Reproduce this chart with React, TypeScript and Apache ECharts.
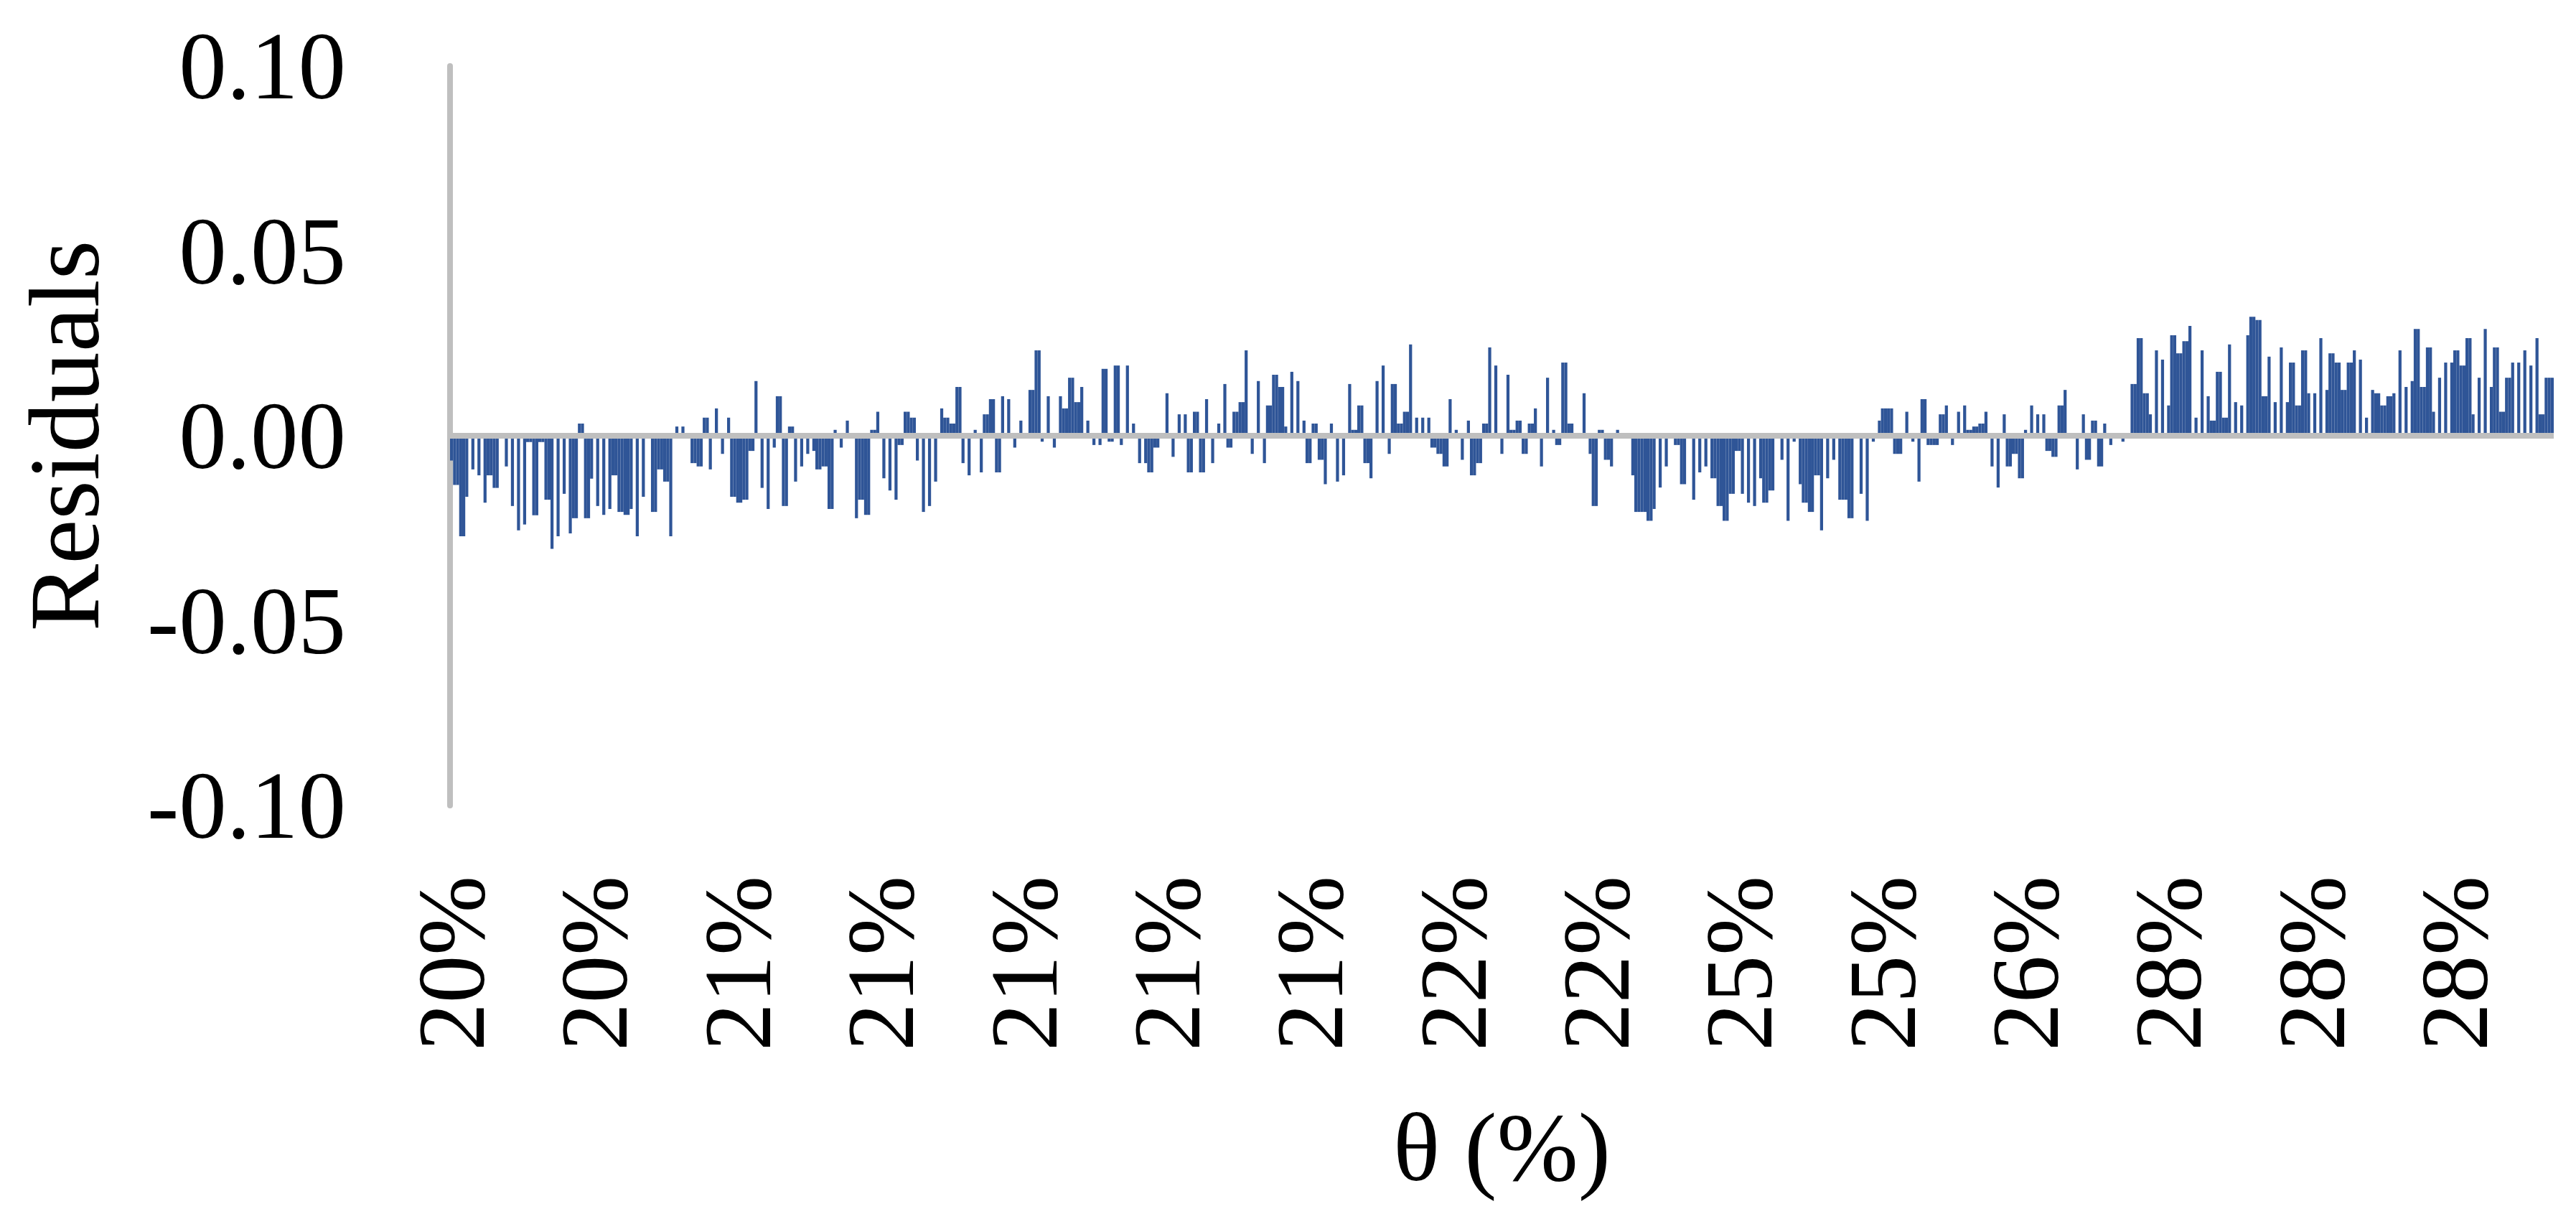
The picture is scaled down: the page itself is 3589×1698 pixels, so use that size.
import * as echarts from 'echarts';
import { useEffect, useRef } from 'react';

// theta tick labels shown under the axis, one every LABEL_EVERY bars
const TICK_LABELS = ['20%', '20%', '21%', '21%', '21%', '21%', '21%', '22%', '22%', '25%', '25%', '26%', '28%', '28%', '28%'];
const LABEL_EVERY = 47;

const Y_TICKS = [-0.1, -0.05, 0, 0.05, 0.1];

// residual of every observation, left to right
const RESIDUALS = [
  -0.0067, -0.0133, -0.0133, -0.0272, -0.0272, -0.0165, 0, -0.0091, 0, -0.0107,
  0, -0.0181, -0.0107, -0.0107, -0.0141, -0.0141, 0, 0, -0.0083, 0,
  -0.019, 0, -0.0256, 0, -0.024, -0.0017, -0.0017, -0.0215, -0.0215, -0.0017,
  -0.0017, -0.0173, -0.0173, -0.0306, 0, -0.0272, 0, -0.0157, 0, -0.0264,
  -0.0223, -0.0223, 0.0033, 0.0033, -0.0223, -0.0223, -0.0116, 0, -0.019, 0,
  -0.0214, 0, -0.0198, -0.0107, -0.0107, -0.0206, -0.0206, -0.0214, -0.0214, -0.0198,
  0, -0.0272, 0, -0.0165, 0, 0, -0.0206, -0.0206, -0.0091, -0.0091,
  -0.0124, -0.0124, -0.0272, 0, 0.0025, 0, 0.0025, 0, 0, -0.0074,
  -0.0074, -0.0083, -0.0083, 0.0049, 0.0049, -0.0091, 0, 0.0074, 0, -0.0049,
  0, 0.0049, -0.0165, -0.0165, -0.0181, -0.0181, -0.0173, -0.0173, -0.0041, -0.0041,
  0.0148, 0, -0.0141, 0, -0.0198, 0, -0.0032, 0.0107, 0.0107, -0.019,
  -0.019, 0.0025, 0.0025, -0.0124, 0, -0.0083, 0, -0.0049, 0, -0.0041,
  -0.0091, -0.0091, -0.0083, -0.0083, -0.0198, -0.0198, 0.0016, 0, -0.0032, 0,
  0.0041, 0, 0, -0.0223, -0.0173, -0.0173, -0.0214, -0.0214, 0.0016, 0.0016,
  0.0065, 0, -0.0115, 0, -0.0148, 0, -0.0173, -0.0025, -0.0025, 0.0065,
  0.0065, 0.0049, 0.0049, -0.0067, 0, -0.0206, 0, -0.019, 0, -0.0124,
  0, 0.0074, 0.0049, 0.0049, 0.0033, 0.0033, 0.0132, 0.0132, -0.0074, 0,
  -0.0107, 0, 0.0016, 0, -0.0099, 0.0058, 0.0058, 0.0099, 0.0099, -0.0099,
  -0.0099, 0.0107, 0, 0.0099, 0, -0.0032, 0, 0.0041, 0, 0,
  0.0124, 0.0124, 0.0231, 0.0231, -0.0016, 0, 0.0107, 0, -0.0032, 0,
  0.0107, 0.0074, 0.0074, 0.0157, 0.0157, 0.0091, 0.0091, 0.0132, 0, 0.0041,
  0, -0.0025, 0, -0.0025, 0.0181, 0.0181, -0.0016, -0.0016, 0.019, 0.019,
  -0.0025, 0, 0.019, 0, 0.0033, 0, -0.0074, 0, -0.0074, -0.0099,
  -0.0099, -0.0032, -0.0032, 0, 0, 0.0115, 0, -0.0057, 0, 0.0058,
  0, 0.0058, -0.0099, -0.0099, 0.0065, 0.0065, -0.0099, -0.0099, 0.0099, 0,
  -0.0074, 0, 0.0033, 0, 0.014, -0.0032, -0.0032, 0.0065, 0.0065, 0.0091,
  0.0091, 0.0231, 0, -0.0049, 0, 0.0148, 0, -0.0074, 0.0082, 0.0082,
  0.0165, 0.0165, 0.0132, 0.0132, 0.0025, 0, 0.0173, 0, 0.0148, 0,
  0.0041, -0.0074, -0.0074, 0.0033, 0.0033, -0.0065, -0.0065, -0.0131, 0, 0.0033,
  0, -0.0124, 0, -0.0107, 0, 0.014, 0.0016, 0.0016, 0.0082, 0.0082,
  -0.0074, -0.0074, -0.0115, 0, 0.0148, 0, 0.019, 0, -0.0049, 0.014,
  0.014, 0.0033, 0.0033, 0.0065, 0.0065, 0.0247, 0, 0.0049, 0, 0.0049,
  0, 0.0049, -0.0032, -0.0032, -0.0049, -0.0049, -0.0083, -0.0083, 0.0099, 0,
  0.0016, 0, -0.0065, 0, 0.0041, -0.0107, -0.0107, -0.0074, -0.0074, 0.0033,
  0.0033, 0.0239, 0, 0.019, 0, -0.0049, 0, 0.0165, 0.0016, 0.0016,
  0.0041, 0.0041, -0.0049, -0.0049, 0.0033, 0.0033, 0.0074, 0, -0.0083, 0,
  0.0157, 0, 0.0016, -0.0025, -0.0025, 0.0198, 0.0198, 0.0033, 0.0033, 0,
  0, 0, 0.0115, 0, -0.0049, -0.019, -0.019, 0.0016, 0.0016, -0.0065,
  -0.0065, -0.0083, 0, 0.0016, 0, 0, 0, 0, -0.0107, -0.0206,
  -0.0206, -0.0206, -0.0206, -0.023, -0.023, -0.0198, 0, -0.014, 0, -0.0083,
  0, 0, -0.0025, -0.0025, -0.0131, -0.0131, 0, 0, -0.0173, 0,
  -0.0099, 0, -0.0083, 0, -0.0115, -0.0115, -0.019, -0.019, -0.023, -0.023,
  -0.0157, -0.0157, -0.0041, -0.0041, -0.0157, 0, -0.0181, 0, -0.019, 0,
  -0.0115, -0.0181, -0.0181, -0.0148, -0.0148, 0, 0, -0.0065, 0, -0.023,
  0, -0.0016, 0, -0.0131, -0.0181, -0.0181, -0.0206, -0.0206, -0.0107, -0.0107,
  -0.0256, 0, -0.0115, 0, -0.0065, 0, -0.0173, -0.0173, -0.0173, -0.0223,
  -0.0223, 0, 0, -0.0157, 0, -0.023, 0, -0.0016, 0, 0.0041,
  0.0074, 0.0074, 0.0074, 0.0074, -0.0049, -0.0049, -0.0049, 0, 0.0065, 0,
  -0.0016, 0, -0.0124, 0.0099, 0.0099, -0.0025, -0.0025, -0.0025, -0.0025, 0.0058,
  0.0058, 0.0082, 0, -0.0025, 0, 0.0065, 0, 0.0082, 0.0016, 0.0016,
  0.0025, 0.0025, 0.0033, 0.0033, 0.0065, 0, -0.0083, 0, -0.014, 0,
  0.0058, -0.0083, -0.0083, -0.0049, -0.0049, -0.0115, -0.0115, 0.0016, 0, 0.0082,
  0, 0.0058, 0, 0.0058, -0.0041, -0.0041, -0.0057, -0.0057, 0.0082, 0.0082,
  0.0124, 0, 0, 0, -0.0091, 0, 0.0058, -0.0065, -0.0065, 0.0041,
  0.0041, -0.0083, -0.0083, 0.0033, 0, -0.0025, 0, 0, 0, -0.0016,
  0, 0, 0.014, 0.014, 0.0264, 0.0264, 0.0115, 0.0115, 0.0058, 0,
  0.0231, 0, 0.0206, 0, 0.0082, 0.0272, 0.0272, 0.0223, 0.0223, 0.0256,
  0.0256, 0.0297, 0, 0.0049, 0, 0.0231, 0, 0.0107, 0.0041, 0.0041,
  0.0173, 0.0173, 0.0049, 0.0049, 0.0247, 0, 0.0091, 0, 0.0082, 0,
  0.0272, 0.0322, 0.0322, 0.0313, 0.0313, 0.0107, 0.0107, 0.0214, 0, 0.0091,
  0, 0.0239, 0, 0.0091, 0.0198, 0.0198, 0.0082, 0.0082, 0.0231, 0.0231,
  0.0115, 0, 0.0115, 0, 0.0264, 0, 0.0124, 0.0223, 0.0223, 0.0198,
  0.0198, 0.0124, 0.0124, 0.0198, 0.0198, 0.0231, 0, 0.0206, 0, 0.0049,
  0, 0.0124, 0.0115, 0.0115, 0.0082, 0.0082, 0.0107, 0.0107, 0.0115, 0,
  0.0231, 0, 0.0132, 0, 0.0148, 0.0289, 0.0289, 0.0132, 0.0132, 0.0239,
  0.0239, 0.0065, 0, 0.0157, 0, 0.0198, 0, 0.0198, 0.0231, 0.0231,
  0.019, 0.019, 0.0264, 0.0264, 0.0058, 0, 0.0157, 0, 0.0289, 0,
  0.0132, 0.0239, 0.0239, 0.0065, 0.0065, 0.0157, 0.0157, 0.0198, 0, 0.0198,
  0, 0.0231, 0, 0.019, 0, 0.0264, 0.0058, 0.0058, 0.0157, 0.0157, 0.0157,
];

const FONT = '"Liberation Serif", "Times New Roman", serif';
const AXIS_GREY = '#bfbfbf';

export default function App() {
  const chartRef = useRef<HTMLDivElement>(null);

  useEffect(() => {
    document.body.style.margin = '0';
    document.body.style.overflow = 'hidden';
    if (!chartRef.current) return;
    const chart = echarts.init(chartRef.current, null, { renderer: 'svg' });

    chart.setOption({
      animation: false,
      backgroundColor: '#ffffff',
      textStyle: { fontFamily: FONT },
      grid: { left: 627, right: 31, top: 92, bottom: 576, outerBoundsMode: 'none' },
      xAxis: {
        type: 'category',
        data: RESIDUALS.map((_, i) => String(i)),
        boundaryGap: true,
        axisLine: { show: false, onZero: false },
        axisTick: { show: false },
        splitLine: { show: false },
        axisLabel: {
          interval: LABEL_EVERY - 1,
          rotate: 90,
          margin: 98,
          fontSize: 133,
          fontFamily: FONT,
          color: '#000',
          formatter: (_v: string, i: number) => TICK_LABELS[i / LABEL_EVERY] ?? '',
        },
        name: 'θ (%)',
        nameLocation: 'middle',
        nameGap: 408,
        nameTextStyle: { fontSize: 136, fontFamily: FONT, color: '#000' },
      },
      yAxis: {
        type: 'value',
        min: Y_TICKS[0],
        max: Y_TICKS[Y_TICKS.length - 1],
        interval: 0.05,
        axisLine: { show: true, lineStyle: { color: AXIS_GREY, width: 8 } },
        axisTick: { show: false },
        splitLine: { show: false },
        axisLabel: {
          margin: 145,
          fontSize: 133,
          fontFamily: FONT,
          color: '#000',
          formatter: (v: number) => v.toFixed(2),
        },
        name: 'Residuals',
        nameLocation: 'middle',
        nameRotate: 90,
        nameGap: 468,
        nameTextStyle: { fontSize: 140, fontFamily: FONT, color: '#000' },
      },
      series: [
        {
          type: 'bar',
          data: RESIDUALS,
          barCategoryGap: '0%',
          itemStyle: { color: '#2f5597' },
          markLine: {
            silent: true,
            symbol: ['none', 'none'],
            label: { show: false },
            lineStyle: { color: AXIS_GREY, width: 8, type: 'solid' },
            data: [{ yAxis: 0 }],
          },
        },
      ],
    });

    return () => chart.dispose();
  }, []);

  return <div ref={chartRef} style={{ width: 3589, height: 1698 }} />;
}
